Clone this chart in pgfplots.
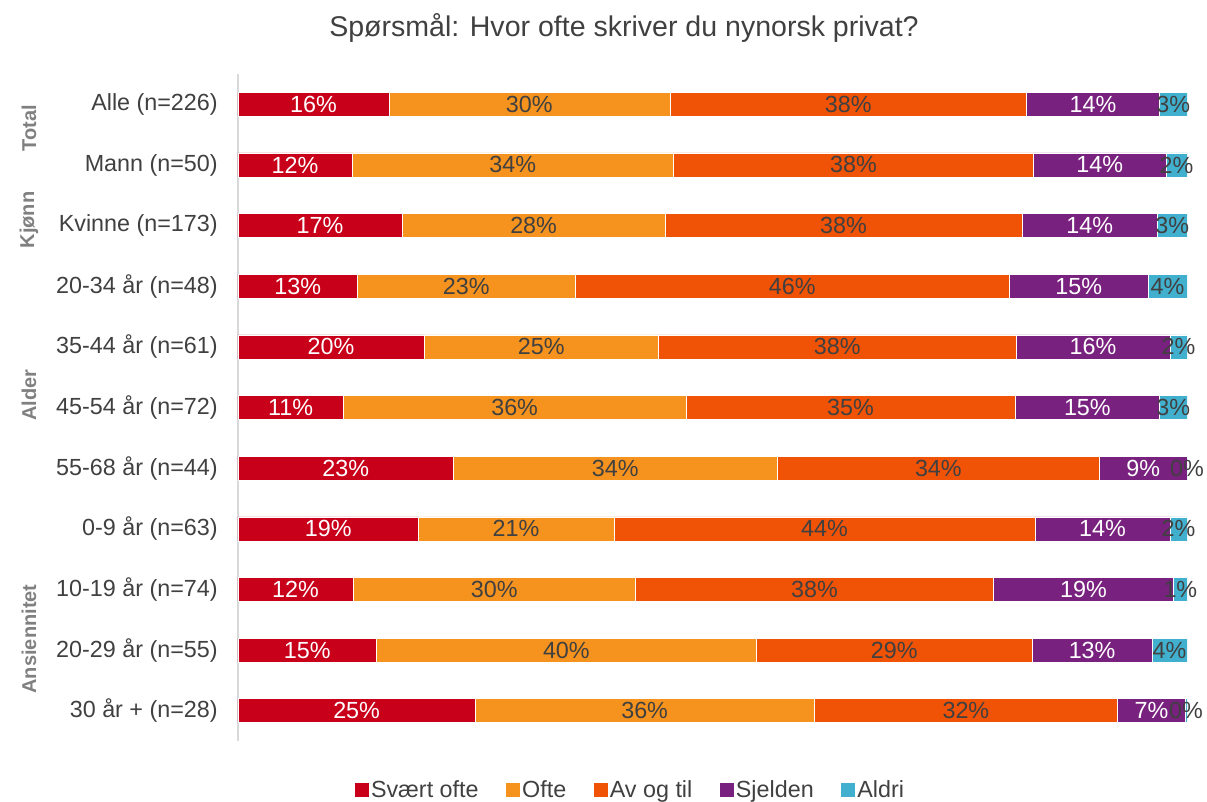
\documentclass[border=0pt]{standalone}
\usepackage{fontspec}
\setmainfont{Liberation Sans}
\usepackage{pgfplots}
\usepackage{pgfplotstable}
\pgfplotsset{compat=1.18}
\definecolor{cA}{HTML}{C8001A}
\definecolor{cB}{HTML}{F6931E}
\definecolor{cC}{HTML}{F05206}
\definecolor{cD}{HTML}{79217F}
\definecolor{cE}{HTML}{41B0CF}
\definecolor{txt}{HTML}{404040}
\definecolor{grp}{HTML}{808080}
\definecolor{axl}{HTML}{D9D9D9}
\newcommand\lbl{\fontsize{17.5}{21}\selectfont}
\newcommand\ttl{\fontsize{21.4}{26}\selectfont}
\newcommand\grpf{\bfseries\fontsize{15}{18}\selectfont}

\pgfplotstableread{
row a b c d e
0 15.9 29.6 37.6 14.0 2.9
1 12.0 33.9 37.9 14.0 2.2
2 17.3 27.7 37.6 14.3 3.1
3 12.6 22.9 45.8 14.6 4.1
4 19.6 24.7 37.7 16.2 1.8
5 11.1 36.1 34.7 15.2 2.9
6 22.7 34.1 34.0 9.19 0.01
7 19.0 20.6 44.4 14.2 1.8
8 12.1 29.8 37.7 19.0 1.4
9 14.6 40.0 29.1 12.6 3.7
10 25.0 35.7 32.0 7.1 0.2
}\data

\pgfplotsset{
  seg/.style n args={2}{
    fill=#1, draw=white, line width=0.4pt,
    point meta=explicit,
    nodes near coords={\color{#2}\pgfmathprintnumber[fixed,precision=0,assume math mode=true]{\pgfplotspointmeta}\%},
    legend image code/.code={\fill[#1] (0pt,-4.75pt) rectangle (9.5pt,4.75pt);}
  }
}

\begin{document}
\begin{tikzpicture}
\useasboundingbox (0,0) rectangle (905.25pt,600.75pt);
\begin{axis}[
  at={(178.5pt,45pt)}, anchor=south west,
  scale only axis, width=711.75pt, height=500.25pt,
  xbar stacked, bar width=18pt,
  xmin=0, xmax=100,
  ymin=-0.5, ymax=10.5, y dir=reverse,
  ytick={0,...,10},
  yticklabels={Alle (n=226), Mann (n=50), Kvinne (n=173), 20-34 år (n=48), 35-44 år (n=61), 45-54 år (n=72), 55-68 år (n=44), 0-9 år (n=63), 10-19 år (n=74), 20-29 år (n=55), 30 år + (n=28)},
  yticklabel style={font=\lbl, text=txt, anchor=east, inner sep=0pt},
  yticklabel shift=15pt,
  major tick length=0pt,
  axis x line=none,
  axis y line*=left,
  y axis line style={draw=axl, line width=1.1pt, -},
  every node near coord/.append style={font=\lbl, anchor=center},
  legend columns=5,
  legend style={at={(0.414,-0.0735)}, anchor=center, draw=none, fill=none,
    font=\lbl, text=txt,
    nodes={inner xsep=2pt, inner ysep=0pt},
    /tikz/every even column/.append style={column sep=18.75pt}},
]
\addplot[seg={cA}{white}] table[x=a, y=row, meta=a]{\data};
\addlegendentry{Svært ofte}
\addplot[seg={cB}{txt}] table[x=b, y=row, meta=b]{\data};
\addlegendentry{Ofte}
\addplot[seg={cC}{txt}] table[x=c, y=row, meta=c]{\data};
\addlegendentry{Av og til}
\addplot[seg={cD}{white}] table[x=d, y=row, meta=d]{\data};
\addlegendentry{Sjelden}
\addplot[seg={cE}{txt}] table[x=e, y=row, meta=e]{\data};
\addlegendentry{Aldri}
\end{axis}
\node[font=\ttl, text=txt] at (468pt,579.75pt) {Spørsmål: Hvor ofte skriver du nynorsk privat?};
\node[rotate=90, font=\grpf, text=grp] at (21.75pt,504.75pt) {Total};
\node[rotate=90, font=\grpf, text=grp] at (21.75pt,435.75pt) {Kjønn};
\node[rotate=90, font=\grpf, text=grp] at (21.75pt,304.5pt) {Alder};
\node[rotate=90, font=\grpf, text=grp] at (21.75pt,121.5pt) {Ansiennitet};
\end{tikzpicture}
\end{document}
